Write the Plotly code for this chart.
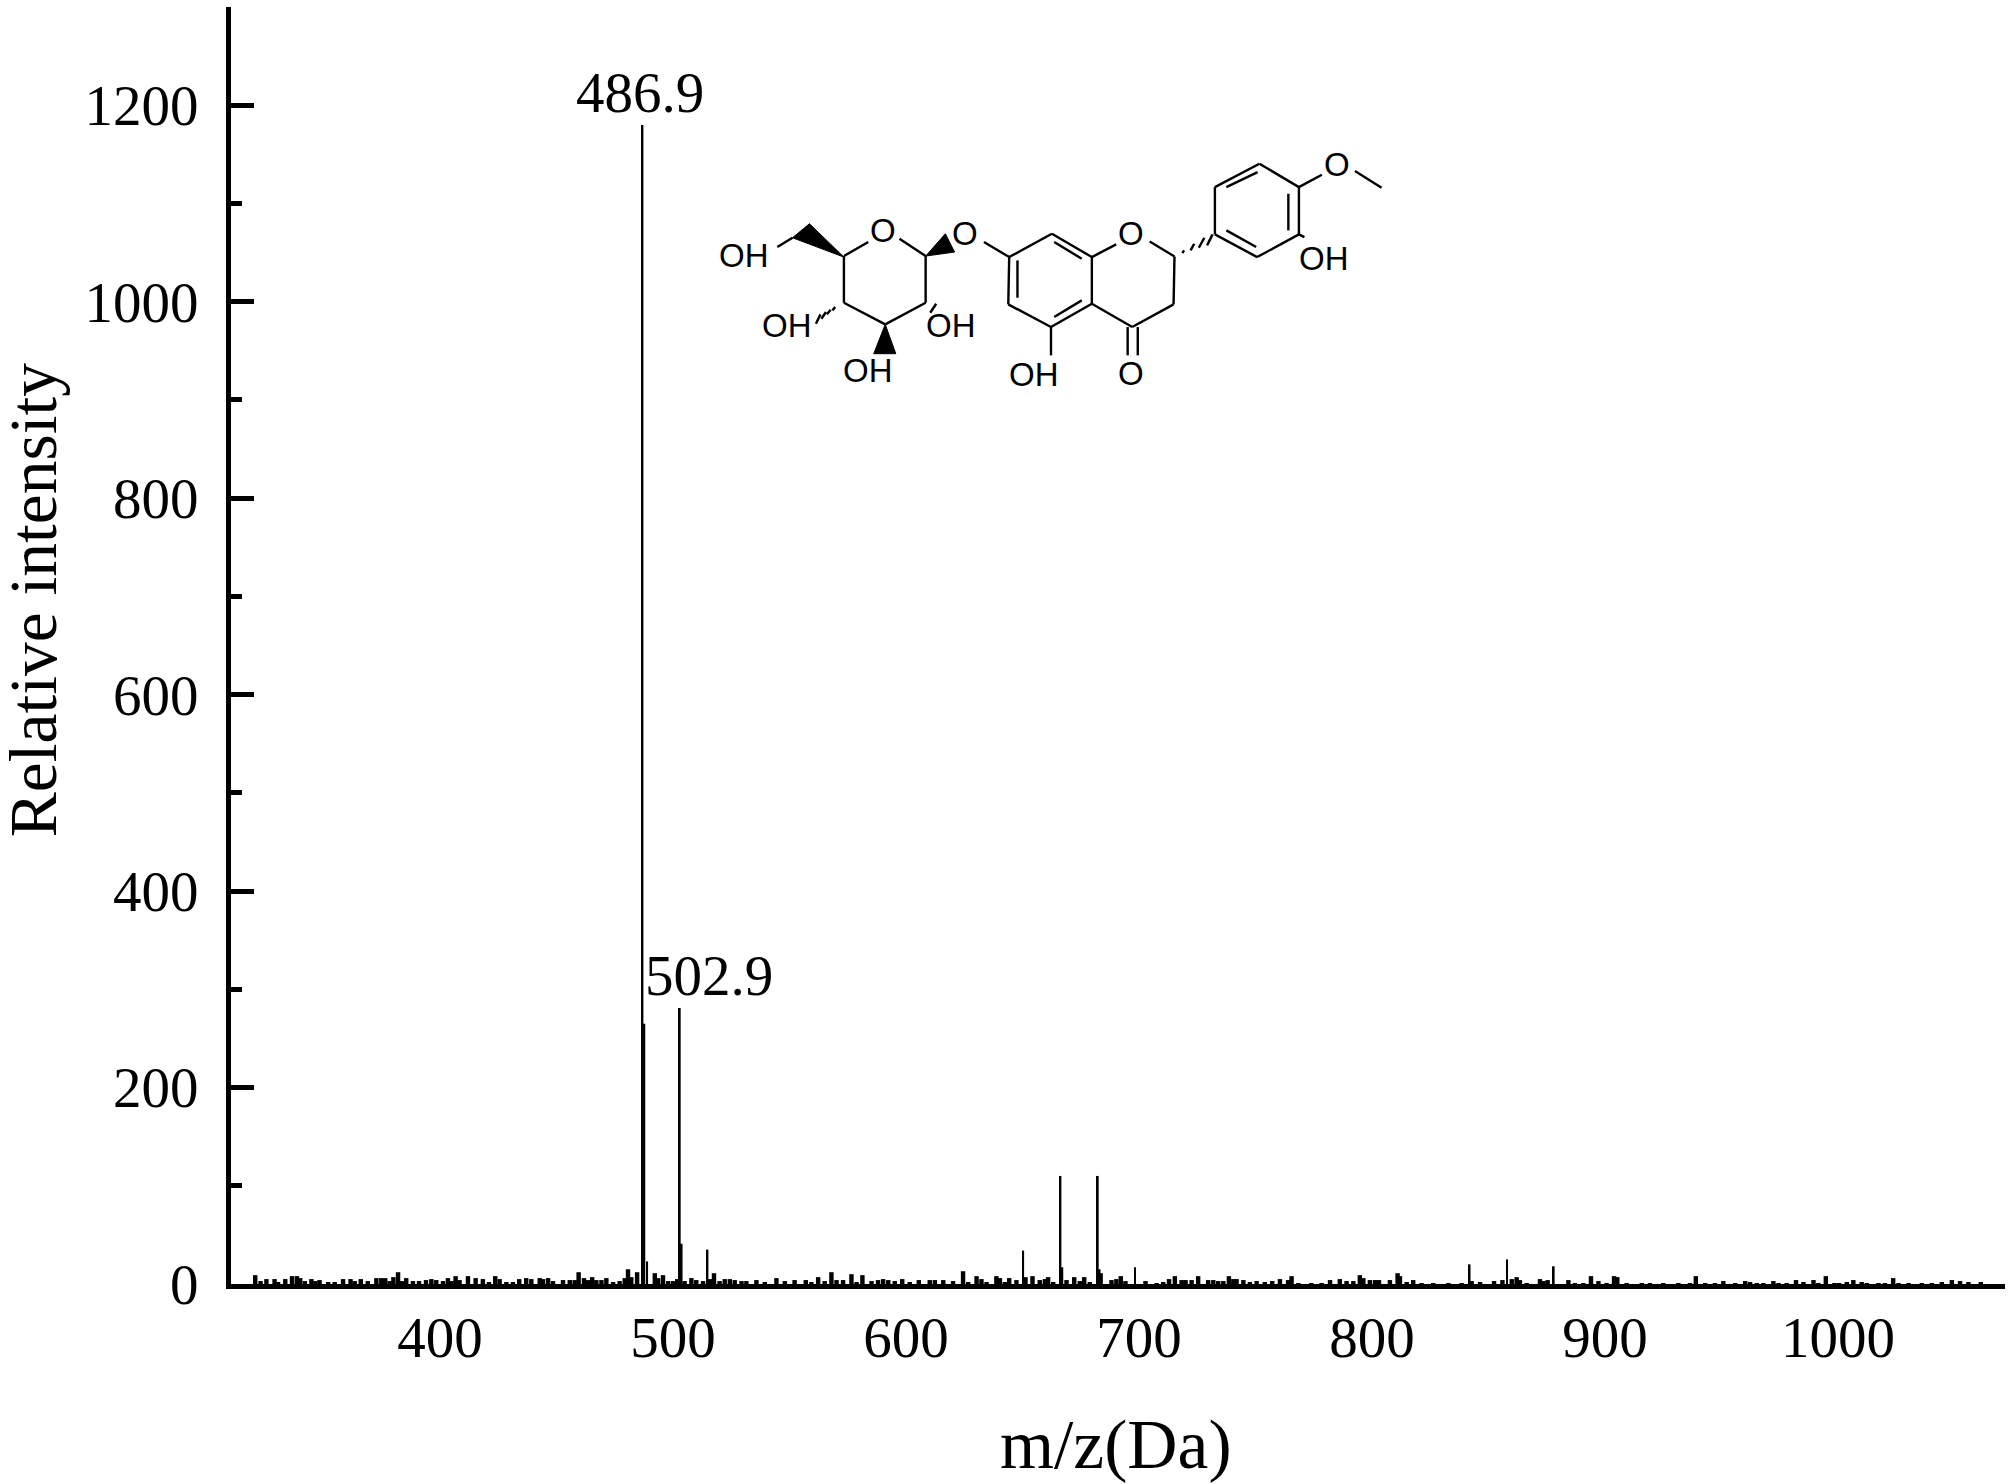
import plotly.graph_objects as go

# tall, labelled ions
peak_mz = [486.9, 487.7, 488.9, 502.9, 503.7, 514.8, 650.3, 666.3, 667.1, 682.3, 683.1, 684.1,
           698.3, 841.9, 858.0, 878.0]
peak_int = [1180, 265, 23, 281, 41, 35, 34, 110, 17, 110, 15, 11, 17, 20, 25, 18]

# small background ions
noise_mz = [320.7, 323, 325.5, 329, 330.5, 333.6, 336.5, 338.6, 340, 342, 344.8, 346.5, 348.3, 352, 354.8,
            358.4, 361.6, 363.4, 366, 369, 372.7, 374.8, 376.5, 378.4, 380, 382, 383.8, 385.5, 388.4, 391,
            394, 396.3, 398.4, 401.3, 403.4, 405, 406.7, 408.4, 412, 415.3, 418.4, 421, 423.7, 425.6, 428.5,
            431.3, 434, 437, 439.2, 442.8, 444.2, 446.4, 448.5, 452.8, 455.7, 457.8, 459.5, 461.8, 463.5,
            465.3, 467.1, 469.3, 471.4, 474.3, 477.1, 479.3, 480.7, 482.1, 484.6, 492.2, 493.6, 495.7, 497.9,
            500, 501.8, 505, 507.9, 510, 512.9, 515.8, 517.6, 520, 522.2, 524.4, 526.5, 529.4, 531.5, 535.8,
            539.4, 544.4, 548, 552.2, 557, 559.4, 562.3, 565.1, 568, 570.2, 573, 576.6, 578.8, 581.3, 585.2,
            588, 590.2, 592.4, 595.2, 598.4, 601.6, 605.5, 610.2, 612.4, 616, 620.2, 624.5, 626.7, 630.3,
            632.4, 634.6, 638.8, 640.3, 642.4, 644.3, 647.4, 651.3, 654.3, 657.4, 659.6, 661, 663.2, 668.9,
            672.2, 674.6, 676.5, 678.9, 688.2, 690.3, 692.2, 694.2, 702.8, 707.6, 710.4, 712.9, 715.4, 718.3,
            720, 722.6, 725.4, 729.7, 731.9, 734, 736.2, 738.6, 740.5, 741.9, 744.8, 747.6, 750.5, 754, 757.2,
            760.5, 764, 765.5, 768.4, 774, 778.4, 782, 786.2, 789.1, 792, 794.8, 796.3, 799.1, 801.3, 803,
            807.7, 811, 812, 814.9, 817.7, 821.3, 826.3, 832.8, 838.5, 842.8, 846.4, 852.4, 856, 860, 862.1,
            863.5, 866.4, 872.1, 873.6, 875.4, 884.3, 887.1, 890.7, 894, 897.2, 900.7, 903.9, 905.3, 909.3,
            915.8, 919.3, 925, 931.5, 936.5, 939, 943, 947.2, 950.8, 955.9, 960.2, 962.3, 965.2, 968, 972.3,
            974.5, 978, 982, 985.2, 989.5, 991.6, 994.8, 998.5, 1000.5, 1003.8, 1006.6, 1010.2, 1012.4,
            1017.4, 1020.2, 1023.7, 1026, 1030.3, 1036, 1040.3, 1044.6, 1048.9, 1052.4, 1056, 1061.3]
noise_int = [9, 3, 5, 5, 2, 5, 8, 8, 6, 3, 5, 3, 4, 2, 2,
             5, 5, 3, 5, 3, 6, 6, 6, 3, 7, 12, 3, 6, 3, 3,
             4, 5, 4, 3, 6, 3, 8, 4, 8, 6, 5, 2, 8, 5, 2,
             2, 5, 6, 5, 6, 5, 6, 3, 4, 4, 4, 12, 6, 4,
             7, 4, 4, 6, 2, 3, 6, 15, 7, 12, 11, 6, 9, 3,
             3, 5, 3, 6, 4, 3, 5, 11, 3, 5, 5, 4, 3, 3, 4,
             2, 6, 3, 4, 4, 2, 7, 3, 12, 4, 4, 10, 2, 9, 3,
             4, 5, 4, 3, 5, 2, 4, 4, 4, 4, 3, 13, 2, 8,
             5, 2, 8, 6, 2, 6, 4, 7, 8, 4, 5, 7, 2, 4,
             7, 3, 7, 2, 4, 5, 8, 3, 3, 1, 2, 5, 8, 4,
             4, 4, 8, 4, 4, 3, 3, 8, 5, 5, 4, 2, 3, 2, 3,
             5, 4, 8, 1, 1, 1, 4, 5, 3, 3, 9, 6, 4, 4, 4,
             4, 11, 8, 2, 4, 1, 1, 1, 1, 3, 2, 3, 4, 5, 7,
             4, 1, 5, 3, 4, 4, 1, 1, 8, 3, 1, 8, 7, 1,
             1, 1, 1, 1, 1, 8, 1, 1, 3, 1, 3, 2, 1, 1, 3,
             1, 1, 4, 2, 4, 1, 8, 1, 1, 2, 4, 2, 1,
             1, 1, 6, 1, 1, 1, 1, 2, 4, 3, 1.5, 1.5]

y_major = [0, 200, 400, 600, 800, 1000, 1200]
x_major = [400, 500, 600, 700, 800, 900, 1000]

# structure drawing, in pixels of the page
PLOT_L, PLOT_R, PLOT_T, PLOT_B = 231, 2005, 6.5, 1284
FIG_W, FIG_H = 2011, 1484

bonds = [
    (357, 377, 410, 335), (478, 325, 535, 377), (535, 377, 535, 517), (535, 517, 447, 582),
    (447, 582, 357, 517), (357, 517, 357, 377), (245, 322, 212, 350), (558, 520, 545, 547),
    (662, 335, 717, 380), (717, 380, 810, 310), (810, 310, 897, 380), (897, 380, 897, 520),
    (897, 520, 808, 590), (808, 590, 715, 522), (715, 522, 717, 380), (735, 390, 735, 502),
    (815, 335, 875, 385), (815, 560, 875, 510), (808, 590, 808, 675), (897, 380, 950, 342),
    (1023, 333, 1077, 378), (1077, 378, 1075, 522), (1075, 522, 985, 590), (985, 590, 897, 520),
    (975, 590, 975, 675), (997, 590, 997, 675), (1165, 312, 1165, 170), (1165, 170, 1262, 100),
    (1262, 100, 1348, 170), (1348, 170, 1348, 312), (1348, 312, 1257, 380), (1257, 380, 1165, 312),
    (1190, 170, 1258, 125), (1325, 190, 1325, 300), (1190, 300, 1255, 350), (1348, 170, 1398, 133),
    (1470, 122, 1528, 172), (1348, 312, 1360, 320),
]
wedges = [
    [(357, 380), (282, 280), (245, 322)],
    [(535, 377), (578, 310), (598, 365)],
    [(447, 582), (422, 670), (470, 670)],
]
hashes = [
    (338, 530, 332, 540), (328, 538, 320, 552), (318, 545, 308, 565), (306, 552, 296, 580),
    (1098, 360, 1094, 368), (1120, 340, 1112, 360), (1142, 322, 1130, 352), (1160, 312, 1148, 345),
]
atoms = [
    ("OH", 140, 375), ("O", 442, 300), ("O", 620, 308), ("OH", 232, 585), ("OH", 590, 585),
    ("OH", 410, 720), ("OH", 772, 733), ("O", 982, 728), ("O", 982, 308), ("O", 1430, 103),
    ("OH", 1402, 385),
]


def paper_x(zx):
    return (680 + zx / 2.178 - PLOT_L) / (PLOT_R - PLOT_L)


def paper_y(zy):
    return (PLOT_B - (130 + zy / 3)) / (PLOT_B - PLOT_T)


fig = go.Figure()
fig.add_trace(go.Bar(x=noise_mz, y=noise_int, width=1.9, marker=dict(color="black", line_width=0)))
fig.add_trace(go.Bar(x=peak_mz, y=peak_int, width=0.8, marker=dict(color="black", line_width=0)))

shapes = []
for x0, y0, x1, y1 in bonds + hashes:
    shapes.append(dict(type="line", xref="paper", yref="paper",
                       x0=paper_x(x0), y0=paper_y(y0), x1=paper_x(x1), y1=paper_y(y1),
                       line=dict(color="black", width=2.4)))
for pts in wedges:
    path = "M " + " L ".join(f"{paper_x(a):.5f},{paper_y(b):.5f}" for a, b in pts) + " Z"
    shapes.append(dict(type="path", xref="paper", yref="paper", path=path,
                       fillcolor="black", line=dict(color="black", width=1)))

annotations = [
    dict(text=t, x=paper_x(a), y=paper_y(b), xref="paper", yref="paper", showarrow=False,
         xanchor="center", yanchor="middle", font=dict(family="Liberation Sans", size=33, color="black"))
    for t, a, b in atoms
]
label_font = dict(family="Liberation Serif", size=57, color="black")
annotations += [
    dict(text="486.9", x=486, y=1213, xref="x", yref="y", showarrow=False, xanchor="center",
         yanchor="middle", font=label_font),
    dict(text="502.9", x=515.5, y=314, xref="x", yref="y", showarrow=False, xanchor="center",
         yanchor="middle", font=label_font),
    dict(text="m/z(Da)", x=(1116 - PLOT_L) / (PLOT_R - PLOT_L), y=(PLOT_B - 1445) / (PLOT_B - PLOT_T),
         xref="paper", yref="paper", showarrow=False, xanchor="center", yanchor="middle",
         font=dict(family="Liberation Serif", size=69.5, color="black")),
    dict(text="Relative intensity", x=(33 - PLOT_L) / (PLOT_R - PLOT_L),
         y=(PLOT_B - 600) / (PLOT_B - PLOT_T), xref="paper", yref="paper", showarrow=False, textangle=-90,
         xanchor="center", yanchor="middle",
         font=dict(family="Liberation Serif", size=67.5, color="black")),
]

fig.update_layout(
    width=FIG_W,
    height=FIG_H,
    margin=dict(l=PLOT_L, r=FIG_W - PLOT_R, t=PLOT_T, b=FIG_H - PLOT_B, pad=0),
    paper_bgcolor="white",
    plot_bgcolor="white",
    showlegend=False,
    barmode="overlay",
    shapes=shapes,
    annotations=annotations,
)
fig.update_xaxes(
    range=[310.3, 1071.7],
    tickmode="array",
    tickvals=x_major,
    ticks="",
    showgrid=False,
    zeroline=False,
    showline=True,
    linecolor="black",
    linewidth=5,
    ticklabelstandoff=0,
    tickfont=dict(family="Liberation Serif", size=57, color="black"),
)
fig.update_yaxes(
    range=[0, 1300],
    tickmode="array",
    tickvals=y_major,
    ticks="inside",
    ticklen=23,
    tickwidth=5,
    tickcolor="black",
    minor=dict(dtick=100, ticks="inside", ticklen=11, tickwidth=5, tickcolor="black", showgrid=False),
    showgrid=False,
    zeroline=False,
    showline=True,
    linecolor="black",
    linewidth=5,
    ticklabelstandoff=16,
    tickfont=dict(family="Liberation Serif", size=57, color="black"),
)

# the page's default body margin would push the figure off its place
fig.write_html("out.html", config=dict(displayModeBar=False),
               post_script="document.body.style.margin='0';")
